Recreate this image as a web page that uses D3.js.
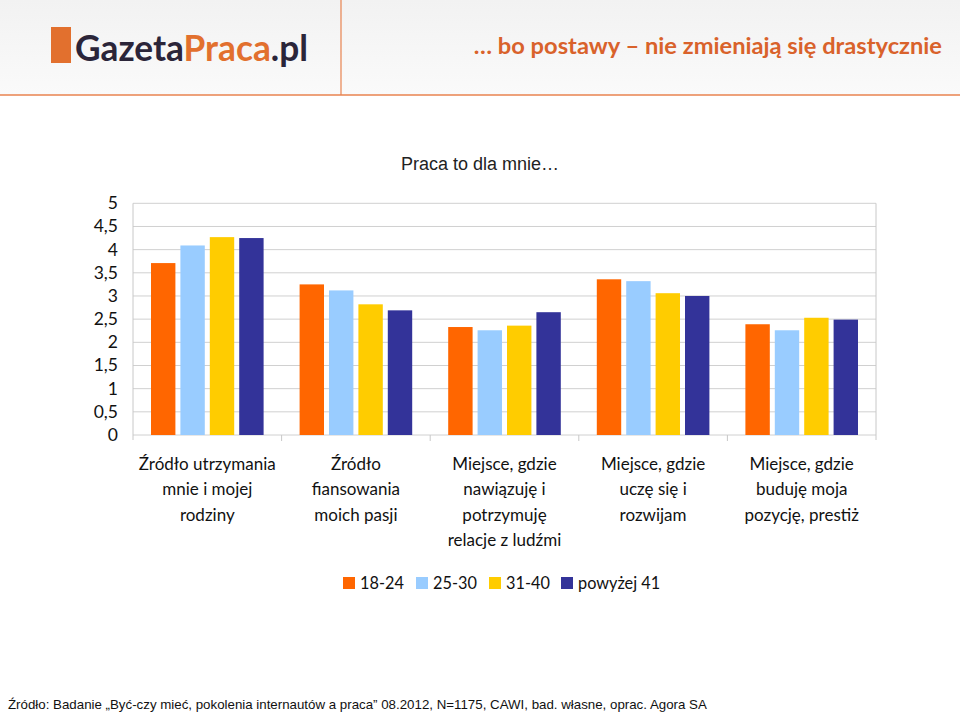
<!DOCTYPE html>
<html><head><meta charset="utf-8">
<script src="https://cdn.jsdelivr.net/npm/d3@7"></script>
<style>body{margin:0;background:#fff}svg{display:block}</style>
</head><body>
<script>
const categories = [
  ["Źródło utrzymania","mnie i mojej","rodziny"],
  ["Źródło","fiansowania","moich pasji"],
  ["Miejsce, gdzie","nawiązuję i","potrzymuję","relacje z ludźmi"],
  ["Miejsce, gdzie","uczę się i","rozwijam"],
  ["Miejsce, gdzie","buduję moja","pozycję, prestiż"]
];
const seriesNames = ["18-24","25-30","31-40","powyżej 41"];
const s1824 = [3.71, 3.25, 2.33, 3.36, 2.39];
const s2530 = [4.09, 3.12, 2.26, 3.32, 2.26];
const s3140 = [4.27, 2.82, 2.36, 3.06, 2.53];
const s41   = [4.25, 2.69, 2.65, 3.00, 2.49];
const yTicks = [0,0.5,1,1.5,2,2.5,3,3.5,4,4.5,5];
const colors = ["#FF6600","#99CCFF","#FFCC00","#333399"];
const seriesValues = [s1824, s2530, s3140, s41];

const W = 960, H = 714;
const svg = d3.select("body").append("svg").attr("width", W).attr("height", H);

// header
const grad = svg.append("defs").append("linearGradient").attr("id","hg").attr("x1",0).attr("y1",0).attr("x2",0).attr("y2",1);
grad.append("stop").attr("offset","0%").attr("stop-color","#f2f2f2");
grad.append("stop").attr("offset","100%").attr("stop-color","#fafafa");
svg.append("rect").attr("x",0).attr("y",0).attr("width",W).attr("height",95).attr("fill","url(#hg)");
svg.append("line").attr("x1",0).attr("x2",W).attr("y1",95).attr("y2",95).attr("stroke","#e8834f").attr("stroke-width",1.5);
svg.append("line").attr("x1",341).attr("x2",341).attr("y1",0).attr("y2",95).attr("stroke","#e8834f").attr("stroke-width",1.2);
// logo
svg.append("rect").attr("x",51).attr("y",27).attr("width",20).attr("height",36).attr("fill","#e2702e");
const logo = svg.append("text").attr("x",75).attr("y",61).attr("font-family","Lato, sans-serif").attr("font-weight","bold").attr("font-size",36).attr("textLength",233).attr("lengthAdjust","spacingAndGlyphs");
logo.append("tspan").attr("fill","#2b2539").text("Gazeta");
logo.append("tspan").attr("fill","#e2702e").text("Praca");
logo.append("tspan").attr("fill","#2b2539").text(".pl");
svg.append("text").attr("x",942).attr("y",54).attr("text-anchor","end").attr("font-family","Lato, sans-serif").attr("font-weight","bold").attr("font-size",23.7).attr("fill","#d9622b").text("… bo postawy – nie zmieniają się drastycznie");

// chart
const pLeft = 133, pRight = 876, pTop = 203.3, pBottom = 435;
const x0 = d3.scaleBand().domain(d3.range(categories.length)).range([pLeft, pRight]).padding(0);
const x1 = d3.scaleBand().domain(d3.range(seriesNames.length)).range([18, x0.bandwidth()-18]).paddingInner(0.17).paddingOuter(0);
const y = d3.scaleLinear().domain([0,5]).range([pBottom, pTop]);

svg.append("text").attr("x",480).attr("y",170).attr("text-anchor","middle").attr("font-family","Liberation Sans, Arial, sans-serif").attr("font-size",18).attr("fill","#222").text("Praca to dla mnie…");

const g = svg.append("g");
g.selectAll("line.grid").data(yTicks).join("line").attr("class","grid")
  .attr("x1",pLeft).attr("x2",pRight).attr("y1",d=>y(d)).attr("y2",d=>y(d))
  .attr("stroke","#d0d0d0").attr("stroke-width",1);
g.append("line").attr("x1",pLeft).attr("x2",pLeft).attr("y1",pTop).attr("y2",pBottom+5).attr("stroke","#c8c8c8");
g.append("line").attr("x1",pRight).attr("x2",pRight).attr("y1",pTop).attr("y2",pBottom+5).attr("stroke","#c8c8c8");
g.selectAll("line.xt").data(d3.range(1,categories.length)).join("line").attr("class","xt")
  .attr("x1",d=>x0(d)).attr("x2",d=>x0(d)).attr("y1",pBottom).attr("y2",pBottom+6).attr("stroke","#c8c8c8");

const fmt = d => String(d).replace(".", ",");
g.selectAll("text.yt").data(yTicks).join("text").attr("class","yt")
  .attr("x",118).attr("y",d=>y(d)+6).attr("text-anchor","end")
  .attr("font-family","Lato, sans-serif").attr("font-size",17.5).attr("fill","#111").text(fmt);

seriesValues.forEach((vals, si) => {
  g.selectAll("rect.s"+si).data(vals).join("rect").attr("class","s"+si)
    .attr("x",(d,i)=>x0(i)+x1(si)).attr("width",x1.bandwidth())
    .attr("y",d=>y(d)).attr("height",d=>pBottom-y(d)).attr("fill",colors[si]);
});

categories.forEach((lines, i) => {
  const t = g.append("text").attr("x", x0(i)+x0.bandwidth()/2).attr("y", 470).attr("text-anchor","middle")
    .attr("font-family","Lato, sans-serif").attr("font-size",17).attr("fill","#111");
  lines.forEach((l, k) => t.append("tspan").attr("x", x0(i)+x0.bandwidth()/2).attr("dy", k===0?0:25.3).text(l));
});

// legend
const legX = [343, 416, 489, 561];
const leg = svg.append("g");
seriesNames.forEach((n, i) => {
  leg.append("rect").attr("x",legX[i]).attr("y",577).attr("width",12).attr("height",12).attr("fill",colors[i]);
  leg.append("text").attr("x",legX[i]+17).attr("y",589).attr("font-family","Lato, sans-serif").attr("font-size",16.3).attr("fill","#111").text(n);
});

svg.append("text").attr("x",8).attr("y",709).attr("font-family","Liberation Sans, Arial, sans-serif").attr("font-size",13.3).attr("fill","#111")
  .text("Źródło: Badanie „Być-czy mieć, pokolenia internautów a praca” 08.2012, N=1175, CAWI, bad. własne, oprac. Agora SA");
</script>
</body></html>
